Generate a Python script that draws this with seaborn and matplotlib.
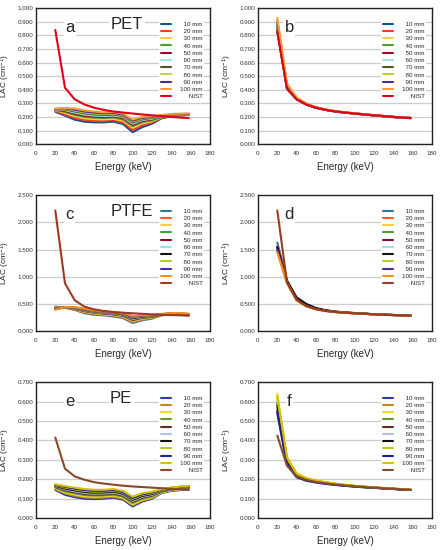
import numpy as np
import pandas as pd
import matplotlib
matplotlib.use("Agg")
import matplotlib.pyplot as plt
import seaborn as sns
from matplotlib.lines import Line2D
from matplotlib.ticker import FormatStrFormatter, MultipleLocator

sns.set_style("white")
plt.rcParams["font.family"] = ["Liberation Sans", "DejaVu Sans"]
plt.rcParams["mathtext.fontset"] = "custom"
plt.rcParams["mathtext.rm"] = "Liberation Sans"
plt.rcParams["mathtext.default"] = "regular"

energy = [20, 30, 40, 50, 60, 70, 80, 90, 100, 110, 120, 130, 140, 150, 158]
series = ["10 mm", "20 mm", "30 mm", "40 mm", "50 mm", "60 mm", "70 mm", "80 mm", "90 mm", "100 mm", "NIST"]

# PET, before correction (a)
pet_raw = [
    [.238, .210, .180, .165, .160, .160, .165, .148, .088, .125, .150, .190, .205, .210, .215],
    [.245, .220, .192, .178, .172, .172, .176, .160, .105, .140, .160, .195, .207, .212, .216],
    [.250, .230, .205, .190, .184, .182, .186, .172, .120, .152, .168, .198, .209, .213, .217],
    [.252, .238, .215, .200, .194, .192, .196, .182, .132, .162, .175, .200, .210, .214, .218],
    [.254, .244, .224, .210, .203, .200, .204, .192, .142, .170, .182, .202, .211, .215, .219],
    [.256, .250, .232, .218, .210, .207, .210, .200, .150, .177, .187, .204, .212, .216, .220],
    [.257, .255, .240, .226, .218, .214, .217, .207, .158, .183, .192, .206, .214, .217, .221],
    [.258, .259, .247, .233, .225, .220, .223, .213, .165, .189, .196, .208, .216, .219, .222],
    [.259, .262, .254, .240, .232, .226, .229, .218, .172, .194, .200, .210, .218, .221, .223],
    [.260, .265, .262, .248, .240, .233, .236, .224, .180, .200, .205, .214, .222, .224, .226],
    [.840, .415, .330, .292, .268, .252, .240, .232, .225, .218, .212, .206, .200, .195, .192],
]
# PET, corrected (b)
pet_cor = [
    [.830, .405, .328, .290, .266, .251, .240, .231, .224, .217, .211, .205, .199, .194, .191],
    [.845, .412, .331, .292, .268, .252, .241, .232, .225, .218, .212, .206, .200, .195, .192],
    [.920, .440, .340, .297, .271, .254, .242, .233, .226, .219, .212, .206, .200, .195, .192],
    [.860, .418, .333, .293, .268, .252, .241, .232, .225, .218, .212, .206, .200, .195, .192],
    [.850, .415, .332, .292, .268, .252, .240, .232, .225, .218, .211, .205, .199, .194, .191],
    [.870, .422, .335, .294, .269, .253, .241, .232, .225, .218, .212, .206, .200, .195, .192],
    [.875, .425, .336, .294, .269, .253, .241, .233, .226, .219, .212, .206, .200, .195, .192],
    [.890, .430, .337, .295, .270, .254, .242, .233, .226, .219, .213, .207, .201, .196, .193],
    [.900, .433, .338, .295, .270, .254, .242, .233, .226, .219, .213, .207, .201, .196, .193],
    [.930, .445, .342, .298, .272, .255, .243, .234, .227, .220, .213, .207, .201, .196, .193],
    [.826, .410, .330, .292, .268, .252, .240, .232, .225, .218, .212, .206, .200, .195, .192],
]
# PTFE, before correction (c)
ptfe_raw = [
    [.450, .430, .390, .330, .300, .290, .270, .240, .150, .200, .230, .290, .310, .300, .290],
    [.440, .430, .400, .345, .315, .300, .285, .255, .170, .215, .240, .295, .312, .302, .292],
    [.430, .430, .405, .355, .325, .310, .295, .265, .185, .228, .250, .298, .314, .305, .295],
    [.425, .432, .410, .365, .335, .320, .305, .278, .198, .240, .258, .300, .316, .308, .298],
    [.420, .433, .415, .372, .343, .328, .313, .288, .210, .250, .265, .302, .318, .310, .300],
    [.415, .435, .420, .380, .350, .335, .320, .297, .222, .258, .272, .304, .320, .313, .303],
    [.410, .437, .425, .388, .358, .342, .328, .306, .235, .266, .278, .306, .322, .316, .306],
    [.405, .438, .430, .395, .365, .348, .335, .315, .250, .275, .285, .308, .325, .320, .310],
    [.400, .440, .435, .402, .372, .355, .342, .323, .265, .284, .292, .312, .328, .324, .315],
    [.395, .442, .440, .410, .380, .362, .350, .332, .280, .293, .300, .316, .332, .330, .320],
    [2.220, .880, .570, .450, .400, .370, .350, .338, .328, .318, .308, .300, .295, .290, .285],
]
# PTFE, corrected (d)
ptfe_cor = [
    [1.630, .930, .600, .480, .415, .378, .355, .340, .330, .320, .310, .302, .296, .290, .285],
    [1.560, .920, .595, .478, .414, .377, .355, .340, .330, .320, .310, .302, .296, .290, .285],
    [1.480, .900, .575, .465, .405, .372, .352, .338, .328, .318, .309, .301, .295, .289, .284],
    [1.520, .910, .585, .470, .410, .375, .353, .339, .329, .319, .309, .301, .295, .289, .284],
    [1.550, .915, .590, .475, .412, .376, .354, .339, .329, .319, .310, .302, .296, .290, .285],
    [1.500, .905, .580, .468, .408, .374, .353, .338, .328, .318, .309, .301, .295, .289, .284],
    [1.540, .925, .620, .500, .425, .385, .360, .344, .333, .322, .312, .304, .297, .291, .286],
    [1.460, .880, .560, .455, .400, .368, .350, .336, .327, .317, .308, .300, .294, .288, .283],
    [1.490, .895, .570, .462, .404, .371, .351, .337, .328, .318, .309, .301, .295, .289, .284],
    [1.450, .890, .565, .458, .402, .370, .351, .337, .327, .317, .308, .300, .294, .288, .283],
    [2.220, .900, .580, .460, .405, .372, .352, .338, .328, .318, .308, .300, .295, .290, .285],
]
# PE, before correction (e)
pe_raw = [
    [.145, .120, .108, .100, .098, .100, .105, .095, .060, .085, .100, .130, .140, .145, .148],
    [.150, .127, .115, .107, .104, .106, .110, .100, .066, .090, .104, .132, .142, .147, .150],
    [.155, .133, .122, .113, .110, .112, .116, .106, .072, .095, .108, .134, .144, .149, .152],
    [.158, .138, .128, .119, .116, .117, .121, .111, .078, .100, .112, .136, .146, .151, .154],
    [.161, .143, .133, .125, .121, .122, .126, .116, .084, .105, .116, .138, .148, .153, .156],
    [.164, .148, .138, .130, .126, .127, .131, .121, .089, .110, .120, .140, .150, .155, .158],
    [.166, .152, .143, .135, .131, .132, .136, .126, .094, .114, .124, .142, .152, .157, .160],
    [.169, .157, .148, .140, .136, .137, .141, .131, .099, .119, .128, .144, .154, .159, .162],
    [.171, .161, .152, .145, .141, .141, .145, .135, .104, .123, .132, .146, .156, .161, .164],
    [.174, .165, .157, .150, .146, .146, .150, .140, .110, .128, .136, .148, .158, .163, .166],
    [.415, .255, .215, .198, .185, .178, .172, .167, .163, .160, .157, .154, .151, .148, .146],
]
# PE, corrected (f)
pe_cor = [
    [.540, .275, .210, .192, .183, .176, .171, .166, .162, .159, .156, .153, .150, .147, .145],
    [.600, .300, .225, .203, .192, .183, .176, .170, .165, .161, .157, .154, .151, .148, .146],
    [.640, .315, .230, .206, .194, .185, .177, .171, .166, .162, .158, .155, .152, .149, .147],
    [.590, .295, .222, .201, .190, .182, .175, .169, .165, .161, .157, .154, .151, .148, .146],
    [.560, .285, .218, .198, .188, .180, .174, .168, .164, .160, .157, .154, .151, .148, .146],
    [.570, .290, .220, .200, .189, .181, .174, .169, .164, .160, .157, .154, .151, .148, .146],
    [.580, .292, .221, .200, .190, .181, .175, .169, .165, .161, .157, .154, .151, .148, .146],
    [.620, .308, .228, .205, .193, .184, .177, .171, .166, .162, .158, .155, .152, .149, .147],
    [.550, .280, .214, .195, .186, .178, .172, .167, .163, .159, .156, .153, .150, .147, .145],
    [.630, .312, .229, .205, .193, .184, .177, .171, .166, .162, .158, .155, .152, .149, .147],
    [.425, .270, .215, .197, .186, .179, .173, .168, .164, .160, .157, .154, .151, .148, .146],
]

pet_colors = ["#1f4e8c", "#ff3a1a", "#ffc94a", "#4c9e2e", "#9a0a2a", "#9fe0ea",
              "#4a5a2a", "#b8d43a", "#4a2a8c", "#ff9a3a", "#e0001a"]
ptfe_colors = ["#2a78a0", "#ff5a2a", "#ffcc44", "#4c9e2e", "#8a0a2a", "#9fe0ea",
               "#111111", "#b8cc22", "#4a2a9a", "#ff8c1a", "#9a3a20"]
pe_colors = ["#2a3aa8", "#c08a2a", "#e8e020", "#6a9a2a", "#5a3020", "#b8c0ea",
             "#111111", "#b8c820", "#20208a", "#d8c000", "#8a4a2a"]

panels = [
    ("a", "PET", pet_raw, pet_colors, 1.0, 0.1),
    ("b", None, pet_cor, pet_colors, 1.0, 0.1),
    ("c", "PTFE", ptfe_raw, ptfe_colors, 2.5, 0.5),
    ("d", None, ptfe_cor, ptfe_colors, 2.5, 0.5),
    ("e", "PE", pe_raw, pe_colors, 0.7, 0.1),
    ("f", None, pe_cor, pe_colors, 0.7, 0.1),
]

fig = plt.figure(figsize=(4.44, 5.5), dpi=100)
lefts = [0.081, 0.581]
bottoms = [0.738, 0.398, 0.058]
labels_txt = ["  10 mm", "  20 mm", "  30 mm", "  40 mm", "  50 mm", "  60 mm",
              "  70 mm", "  80 mm", "  90 mm", "100 mm", "     NIST"]

for i, (letter, material, values, colors, ymax, ystep) in enumerate(panels):
    ax = fig.add_axes([lefts[i % 2], bottoms[i // 2], 0.392, 0.247])
    frames = [pd.DataFrame({"energy": energy, "lac": v, "series": s}) for s, v in zip(series, values)]
    df = pd.concat(frames, ignore_index=True)
    sns.lineplot(data=df, x="energy", y="lac", hue="series", hue_order=series,
                 palette=dict(zip(series, colors)), sort=False, estimator=None,
                 legend=False, lw=1.5, ax=ax)
    ax.set_xlim(0, 180)
    ax.set_ylim(0, ymax)
    ax.xaxis.set_major_locator(MultipleLocator(20))
    ax.yaxis.set_major_locator(MultipleLocator(ystep))
    ax.yaxis.set_major_formatter(FormatStrFormatter("%.3f"))
    ax.grid(axis="y", color="#cccccc", lw=0.9)
    ax.set_axisbelow(True)
    for sp in ax.spines.values():
        sp.set_visible(True)
        sp.set_color("#222222")
        sp.set_linewidth(1.0)
    ax.tick_params(axis="both", direction="in", length=2, width=0.6, labelsize=4.5,
                   colors="#333333")
    ax.tick_params(axis="x", pad=5)
    ax.tick_params(axis="y", pad=2)
    ax.set_xlabel("Energy (keV)", fontsize=7, labelpad=4)
    ax.set_ylabel("LAC (cm$^{-1}$)", fontsize=6)
    ax.yaxis.set_label_coords(-0.135, 0.5)

    lx = 0.195 if letter in "ace" else 0.18
    ax.text(lx, 0.855, letter, transform=ax.transAxes, fontsize=12, ha="center", va="center",
            bbox=dict(facecolor="white", edgecolor="none", pad=1))
    if material:
        mx = {"PET": 0.523, "PTFE": 0.55, "PE": 0.49}[material]
        ax.text(mx, 0.88, material, transform=ax.transAxes, fontsize=12, ha="center",
                va="center", bbox=dict(facecolor="white", edgecolor="none", pad=1))

    handles = [Line2D([], [], color=c, lw=1.5) for c in colors]
    leg = ax.legend(handles, labels_txt, loc="upper right", bbox_to_anchor=(0.985, 0.935),
                    fontsize=4.5, labelspacing=0.3, handlelength=1.6, handletextpad=1.5,
                    borderpad=0.2, frameon=True, framealpha=1)
    leg.get_frame().set_edgecolor("none")
    leg.get_frame().set_facecolor("white")

fig.savefig("out.png", dpi=100)
